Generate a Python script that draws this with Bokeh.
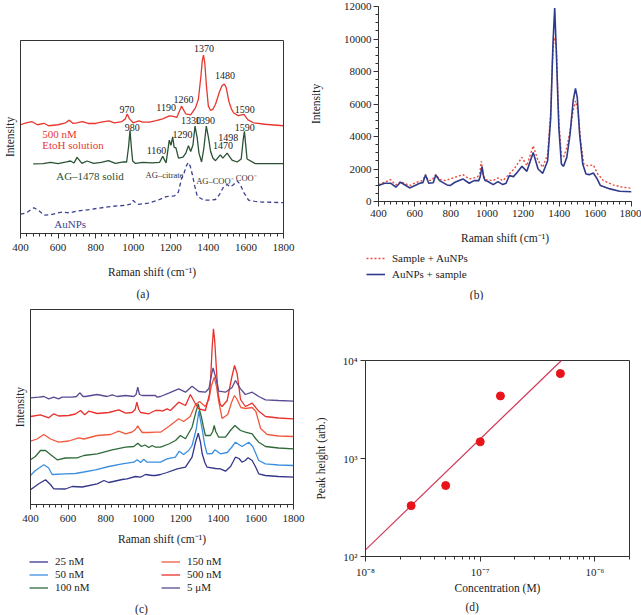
from bokeh.plotting import figure
from bokeh.layouts import row, column
from bokeh.models import (FixedTicker, SingleIntervalTicker, Label, Legend, LegendItem, Title)
from bokeh.core.properties import value
from bokeh.embed import file_html
from bokeh.resources import INLINE

FONT = "Liberation Serif"
AX = "#333333"
TXT = "#222222"

# ---------------- data: panel (a) (arbitrary stacked intensity) ----------------
a_red = [(400,111),(430,113),(460,114.3),(490,111),(525,112.5),(550,110),(600,111),(640,113),(660,115.7),
         (680,112.3),(700,113),(730,114.3),(760,112.3),(800,112.3),(830,113.7),(870,115),(900,113),(940,114.3),
         (958,117),(968,122),(980,117),(1000,113),(1030,115),(1050,113.7),(1087,113.7),(1122,115.3),(1157,117),
         (1192,120),(1215,119.5),(1232,118.5),(1257,130),(1280,122),(1306,121),(1332,128.5),(1347,137),(1360,160),
         (1368,177),(1374,182),(1381,174),(1390,150),(1400,130),(1412,125.5),(1425,127),(1438,132),(1460,145),
         (1473,151),(1485,152.5),(1495,149),(1509,135),(1523,127),(1535,123),(1559,120.3),(1589,121.5),(1611,116),
         (1640,113),(1700,111.5),(1800,110)]
a_green = [(468,71),(520,71.3),(560,72.5),(600,71.3),(645,73),(666,74),(685,72),(701,77.7),(727,71.5),(754,74),
           (790,71.5),(830,72.5),(868,74.3),(905,71.5),(948,73),(965,73),(975,88),(983,105.3),(990,88),(997,74),
           (1012,71.5),(1050,72.5),(1100,72),(1140,72.5),(1157,78.7),(1175,72),(1192,95.3),(1201,90),(1210,98.7),
           (1218,88),(1227,87.7),(1241,77),(1265,78),(1280,82),(1294,89.7),(1306,83.7),(1318,90.3),(1329,109.7),
           (1341,97),(1350,82),(1364,73),(1376,87),(1389,109.7),(1400,98.7),(1412,83.7),(1424,77),(1438,74.3),
           (1464,80.3),(1477,77),(1500,82),(1526,75),(1553,73),(1575,76),(1585,95),(1592,104.3),(1598,92),
           (1606,76),(1650,71.3),(1800,71.3)]
a_blue = [(400,19.7),(430,21),(472,26.3),(500,23),(525,18.7),(570,19.5),(622,22),(660,21),(700,23),(763,24.3),
          (820,26),(886,27.7),(956,28.7),(985,30),(1000,33.7),(1015,31),(1027,29.7),(1080,31),(1132,34),(1176,37.7),
          (1220,38.5),(1240,42),(1256,55),(1271,62),(1283,69),(1293,72.5),(1303,69),(1315,60),(1328,48),(1341,38),
          (1376,34),(1410,34),(1438,34.7),(1460,40),(1482,48),(1500,50),(1517,47.5),(1535,50),(1553,53.7),
          (1570,50),(1588,42),(1614,34),(1643,33),(1685,32),(1714,32),(1800,31.5)]
a_red_peaks = ["970", "1190", "1260", "1370", "1480", "1590"]
a_red_peak_pos = [(967,126.3),(1175,128.7),(1268,137),(1377,188.7),(1488,161),(1594,127)]
a_green_peaks = ["980", "1160", "1290", "1330", "1390", "1470", "1498", "1590"]
a_green_peak_pos = [(995,108.7),(1124,85),(1263,101),(1307,115.3),(1382,115.3),(1478,89.7),(1506,97.7),(1594,108.7)]

# ---------------- data: panel (b) ----------------
b_sample_aunp = [(400,1041),(433,1184),(466,1347),(495,1020),(522,1225),(548,1100),(572,980),(611,1184),(645,1300),
                 (660,1653),(675,1300),(695,1300),(716,1653),(740,1350),(770,1286),(823,1490),(867,1653),(902,1388),
                 (946,1490),(960,1700),(969,2470),(978,1700),(990,1350),(1035,1286),(1061,1449),(1088,1286),
                 (1115,1592),(1150,2000),(1194,2715),(1221,2204),(1256,3429),(1283,2510),(1309,2102),(1336,2919),
                 (1353,5572),(1362,8500),(1371,10100),(1378,9900),(1384,9450),(1398,4960),(1412,2817),(1424,2715),
                 (1442,3327),(1460,4347),(1477,5572),(1490,6184),(1504,5572),(1518,3735),(1536,2306),(1557,2204),
                 (1589,2245),(1613,1694),(1645,1286),(1698,1020),(1751,878),(1800,816)]
b_aunp_sample = [(400,980),(434,1122),(469,1122),(496,878),(522,1184),(549,1000),(572,837),(602,980),(628,1122),
                 (646,1163),(660,1633),(678,1122),(703,1150),(717,1633),(738,1286),(779,1020),(796,980),(823,1184),
                 (867,1388),(902,1122),(929,1286),(955,1286),(962,1500),(973,2143),(982,1500),(990,1286),(1003,1245),
                 (1035,1041),(1061,1225),(1088,1041),(1106,1122),(1124,1592),(1147,1531),(1168,1796),(1194,2163),
                 (1221,1857),(1256,3020),(1283,2000),(1309,1735),(1336,2510),(1353,5164),(1362,8500),(1366,9858),
                 (1375,11899),(1384,9246),(1392,6500),(1398,4551),(1412,2306),(1424,2163),(1442,2715),(1460,4143),
                 (1477,6184),(1490,6960),(1500,6388),(1513,4143),(1530,2306),(1548,1694),(1566,1653),(1589,1755),
                 (1610,1388),(1628,980),(1681,776),(1734,633),(1800,600)]
b_legend = ["Sample + AuNPs", "AuNPs + sample"]

# ---------------- data: panel (c) (stacked, arbitrary) ----------------
c_25nM = [(400,14.7),(444,20.7),(480,24.7),(506,20),(524,15.7),(586,15.5),(622,18),(675,17.5),(755,20.7),(791,24),
          (817,22),(888,25),(914,25.7),(959,28),(985,27.3),(1012,30),(1048,29),(1065,29),(1092,30),(1127,32),
          (1181,35.7),(1225,37.3),(1260,47.3),(1278,62),(1293,71.3),(1305,62),(1314,50.7),(1328,42),(1340,37.3),
          (1385,36),(1411,35.7),(1438,33.3),(1465,38),(1491,47.3),(1510,46),(1526,42.3),(1543,44),(1558,46.7),
          (1580,44),(1597,38),(1615,30.7),(1650,29),(1720,28),(1800,27.3)]
c_50nM = [(400,29),(426,34),(471,39.7),(497,36.5),(515,30),(586,30.7),(639,31),(684,32.5),(746,34.7),(817,38),
          (888,40.7),(950,42.3),(968,44.7),(986,42),(1003,45.3),(1021,42.3),(1065,42.3),(1092,42.3),(1127,45.7),
          (1171,47.3),(1192,53.3),(1215,50),(1242,54),(1260,59),(1282,75),(1296,93.3),(1314,75),(1327,60),
          (1340,50.7),(1367,51),(1381,54.7),(1411,50.7),(1447,52),(1470,57),(1491,62.3),(1526,58),(1562,62.3),
          (1583,58),(1597,52),(1615,44),(1650,40.7),(1720,39.5),(1800,39)]
c_100nM = [(400,44.7),(426,48),(453,54),(480,54),(506,50),(542,44.7),(586,46.5),(648,46.7),(684,49),(755,50.7),
           (835,54.7),(906,57.3),(950,58),(971,61.3),(991,58),(1009,59.5),(1030,57),(1048,59),(1065,57.3),
           (1092,57.3),(1136,60.5),(1172,64),(1198,69),(1225,65.7),(1260,77.3),(1278,90.7),(1293,100.7),(1302,93),
           (1310,87.3),(1320,78),(1331,69),(1358,69),(1370,73),(1378,79),(1386,73),(1402,67.3),(1438,67.3),
           (1464,74),(1488,79),(1518,74),(1544,72.3),(1580,70.7),(1598,66),(1615,62.3),(1651,58),(1720,56.5),
           (1800,55.7)]
c_150nM = [(400,63.3),(435,65.5),(471,70),(506,65.5),(550,62.3),(604,63.5),(657,66.7),(684,65.5),(755,69),(826,70),
           (870,73.3),(906,70.7),(941,72.5),(958,75),(971,78.7),(983,75),(995,72),(1030,72),(1065,72.3),(1092,72.3),
           (1136,78),(1189,85.7),(1215,83),(1250,88),(1278,100),(1300,103),(1330,98),(1350,105),(1362,118),
           (1378,127.3),(1390,118),(1400,105),(1420,86),(1450,90),(1470,102),(1486,109),(1500,105),(1520,97),
           (1545,96),(1580,97),(1600,93),(1625,76),(1660,70),(1720,68.5),(1800,68)]
c_500nM = [(400,88),(453,89.7),(497,86.7),(524,90.7),(550,88.5),(604,89),(639,90.5),(666,94),(689,89.7),(710,93.3),
           (755,91),(817,92),(870,94.7),(906,91.3),(941,92),(957,95),(966,102.3),(976,95),(986,92),(1030,90.7),
           (1048,92.5),(1065,94),(1092,94),(1101,93.3),(1127,95.7),(1145,94),(1189,102.3),(1225,99),(1251,110),
           (1274,102),(1296,95.7),(1331,94),(1353,110.7),(1360,130),(1367,157.3),(1374,175.7),(1380,165),
           (1385,150),(1392,128),(1399,110.7),(1410,100),(1420,98),(1447,104),(1470,126),(1486,139),(1500,130.7),
           (1518,105),(1544,98),(1580,101.3),(1615,93.3),(1651,88),(1720,86.5),(1800,85.7)]
c_5uM = [(400,106.7),(444,107.3),(471,108),(497,105.7),(524,107.3),(550,105.7),(568,107.3),(622,107.3),(645,108),
         (662,111.7),(680,108),(693,108),(755,110),(808,108),(835,109.7),(861,108),(906,109),(950,108),(962,110),
         (971,117.3),(980,110),(995,109),(1048,109),(1065,109),(1074,107.3),(1092,108),(1136,111.3),(1189,115.7),
         (1225,112.3),(1260,118.3),(1296,113),(1331,112.3),(1350,116),(1358,124),(1365,131),(1372,136.7),
         (1380,131),(1388,125.7),(1402,113.3),(1438,112.3),(1473,117),(1491,124),(1518,115.7),(1544,110),
         (1580,112.3),(1615,108),(1651,104.7),(1720,104),(1800,103.3)]
c_labels = ["25 nM", "50 nM", "100 nM", "150 nM", "500 nM", "5 \u03bcM"]

# ---------------- data: panel (d) ----------------
d_conc = [2.5e-8, 5e-8, 1e-7, 1.5e-7, 5e-7]
d_peak = [330, 530, 1480, 4350, 7350]
d_fit_conc = [1e-8, 5.1e-7]
d_fit_peak = [117, 10000]
d_xticks = [1e-8, 1e-7, 1e-6]
d_xlabels = ["10\u207b\u2078", "10\u207b\u2077", "10\u207b\u2076"]
d_xminor = [2e-8, 3e-8, 4e-8, 5e-8, 6e-8, 7e-8, 8e-8, 9e-8,
            2e-7, 3e-7, 4e-7, 5e-7, 6e-7, 7e-7, 8e-7, 9e-7, 2e-6]
d_yticks = [100, 1000, 10000]
d_ylabels = ["10\u00b2", "10\u00b3", "10\u2074"]


def xy(pairs):
    return [p[0] for p in pairs], [p[1] for p in pairs]


def make_fig(w, h, left, right, top, bottom, xr, yr, **kw):
    p = figure(width=w, height=h, x_range=xr, y_range=yr, title=None,
               output_backend="svg", toolbar_location=None,
               min_border_left=left, min_border_right=right,
               min_border_top=top, min_border_bottom=bottom, **kw)
    p.grid.visible = False
    p.outline_line_color = AX
    p.outline_line_width = 1
    for ax in p.axis:
        ax.axis_line_color = AX
        ax.major_tick_line_color = AX
        ax.minor_tick_line_color = AX
        ax.major_tick_in = 0
        ax.minor_tick_in = 0
        ax.major_tick_out = 5
        ax.minor_tick_out = 3
        ax.major_label_text_font = FONT
        ax.major_label_text_font_size = "11px"
        ax.major_label_text_color = TXT
        ax.axis_label_text_font = FONT
        ax.axis_label_text_font_size = "11.5px"
        ax.axis_label_text_font_style = "normal"
        ax.axis_label_text_color = TXT
    return p


def blank_fig(w, h):
    # legend/caption strip; its own range keeps the legend's source lines out of view
    p = figure(width=w, height=h, x_range=(0, 1), y_range=(0, 1), title=None,
               output_backend="svg", toolbar_location=None, min_border=0,
               x_axis_location=None, y_axis_location=None)
    p.grid.visible = False
    p.outline_line_color = None
    return p


def caption_title(p, text, offset, standoff):
    p.add_layout(Title(text=text, align="left", offset=offset, standoff=standoff,
                       text_font=FONT, text_font_size="11.5px", text_font_style="normal",
                       text_color=TXT), "below")


def caption_label(p, text, x, y):
    p.add_layout(Label(x=x, y=y, x_units="screen", y_units="screen", text=text,
                       text_font=FONT, text_font_size="11.5px", text_color=TXT,
                       text_align="center", text_baseline="middle"))


def note(p, text, x, y, color, size="11px"):
    p.add_layout(Label(x=x, y=y, text=text, text_font=FONT, text_font_size=size,
                       text_color=color, text_align="left", text_baseline="middle"))


def peak_text(p, labels, pos):
    p.text(x=[q[0] for q in pos], y=[q[1] for q in pos], text=labels,
           text_font=value(FONT), text_font_size="10px", text_color=TXT,
           text_align="center", text_baseline="middle")


def legend(items, loc, gh, lw, **kw):
    return Legend(items=items, location=loc, orientation="vertical",
                  padding=0, margin=0, spacing=0,
                  glyph_width=19, glyph_height=gh, label_height=gh, label_width=lw,
                  label_standoff=7, label_text_font=FONT, label_text_font_size="11px",
                  label_text_color=TXT, border_line_color=None, background_fill_alpha=0, **kw)


# ---------------- panel (a) ----------------
pa = make_fig(306, 305, 18, 23, 40, 68, (400, 1800), (0, 197))
pa.xaxis.ticker = SingleIntervalTicker(interval=200, num_minor_ticks=6)
pa.xaxis.major_label_standoff = 5
pa.xaxis.axis_label = "Raman shift (cm\u207b\u00b9)"
pa.xaxis.axis_label_standoff = 12
pa.yaxis.ticker = FixedTicker(ticks=[])
pa.yaxis.major_label_standoff = 0
pa.yaxis.axis_label = "Intensity"
pa.yaxis.axis_label_standoff = 5
x, y = xy(a_red)
pa.line(x, y, line_color="#e8372f", line_width=1.3)
x, y = xy(a_green)
pa.line(x, y, line_color="#2b5234", line_width=1.3)
x, y = xy(a_blue)
pa.line(x, y, line_color="#3b3f8f", line_width=1.3, line_dash="4 3")
peak_text(pa, a_red_peaks, a_red_peak_pos)
peak_text(pa, a_green_peaks, a_green_peak_pos)
note(pa, "500 nM", 516, 102, "#e8372f")
note(pa, "EtoH solution", 516, 90, "#e8372f")
note(pa, "AG\u20131478 solid", 590, 59, "#2b5234")
note(pa, "AG\u2013citrate", 1066, 60, "#333333", "8.5px")
note(pa, "AG\u2013COO\u207b", 1335, 54, "#333333", "8.5px")
note(pa, "COO\u207b", 1546, 57, "#333333", "8.5px")
note(pa, "AuNPs", 580, 10, "#3b3f8f")
caption_title(pa, "(a)", 116, 11)

# ---------------- panel (b) ----------------
pb = make_fig(335, 247, 61, 10, 6, 46, (400, 1800), (0, 12000))
pb.outline_line_color = None
pb.xaxis.ticker = SingleIntervalTicker(interval=200, num_minor_ticks=6)
pb.yaxis.ticker = SingleIntervalTicker(interval=2000, num_minor_ticks=4)
pb.xaxis.major_label_standoff = 3
pb.yaxis.major_label_standoff = 2
pb.xaxis.axis_label = "Raman shift (cm\u207b\u00b9)"
pb.xaxis.axis_label_standoff = 12
pb.yaxis.axis_label = "Intensity"
pb.yaxis.axis_label_standoff = 19
b_style = [dict(line_color="#e84b3c", line_width=1.4, line_dash="2 2"),
           dict(line_color="#2f3a8a", line_width=1.6)]
for s, st in zip([b_sample_aunp, b_aunp_sample], b_style):
    x, y = xy(s)
    pb.line(x, y, **st)

lb = blank_fig(335, 53)
kb = []
for s, st in zip([b_sample_aunp, b_aunp_sample], b_style):
    x, y = xy(s)
    kb.append(lb.line(x, y, **st))
lb.add_layout(legend([LegendItem(label=b_legend[i], renderers=[kb[i]]) for i in range(2)], (60, 18), 16, 20))
caption_label(lb, "(b)", 170, 6)

# ---------------- panel (c) ----------------
pc = make_fig(306, 245, 30, 13, 4, 46, (400, 1800), (0, 195))
pc.xaxis.ticker = SingleIntervalTicker(interval=200, num_minor_ticks=6)
pc.xaxis.major_label_standoff = 5
pc.xaxis.axis_label = "Raman shift (cm\u207b\u00b9)"
pc.xaxis.axis_label_standoff = 8
pc.yaxis.ticker = FixedTicker(ticks=[])
pc.yaxis.major_label_standoff = 0
pc.yaxis.axis_label = "Intensity"
pc.yaxis.axis_label_standoff = 5
c_series = [c_25nM, c_50nM, c_100nM, c_150nM, c_500nM, c_5uM]
c_colors = ["#35378a", "#3b8fe0", "#2f6b3a", "#f25a40", "#e8302c", "#5b4a92"]
for s, col in zip(c_series, c_colors):
    x, y = xy(s)
    pc.line(x, y, line_color=col, line_width=1.3)

lc = blank_fig(306, 65)
kc = []
for s, col in zip(c_series, c_colors):
    x, y = xy(s)
    kc.append(lc.line(x, y, line_color=col, line_width=1.3))
for k, vx in enumerate([29, 161]):
    lc.add_layout(legend([LegendItem(label=c_labels[3 * k + i], renderers=[kc[3 * k + i]]) for i in range(3)],
                         (vx, 21.5), 13, 20))
caption_label(lc, "(c)", 141, 7)

# ---------------- panel (d) ----------------
pd_ = make_fig(335, 315, 59, 12, 60, 59, (1e-8, 2e-6), (100, 10000),
               x_axis_type="log", y_axis_type="log")
pd_.xaxis.ticker = FixedTicker(ticks=d_xticks, minor_ticks=d_xminor)
pd_.xaxis.major_label_overrides = dict(zip(d_xticks, d_xlabels))
pd_.yaxis.ticker = FixedTicker(ticks=d_yticks)
pd_.yaxis.major_label_overrides = dict(zip(d_yticks, d_ylabels))
pd_.xaxis.major_label_standoff = 4
pd_.yaxis.major_label_standoff = 3
pd_.xaxis.axis_label = "Concentration (M)"
pd_.xaxis.axis_label_standoff = 1
pd_.yaxis.axis_label = "Peak height (arb.)"
pd_.yaxis.axis_label_standoff = 13
pd_.line(d_fit_conc, d_fit_peak, line_color="#d23a5a", line_width=1.2)
pd_.scatter(d_conc, d_peak, size=8, fill_color="#e8141a", line_color="#e8141a")
caption_title(pd_, "(d)", 100, 5)

layout = row(column(row(pa), row(pc), row(lc)), column(row(pb), row(lb), row(pd_)))
open("out.html", "w").write(file_html(layout, INLINE))
